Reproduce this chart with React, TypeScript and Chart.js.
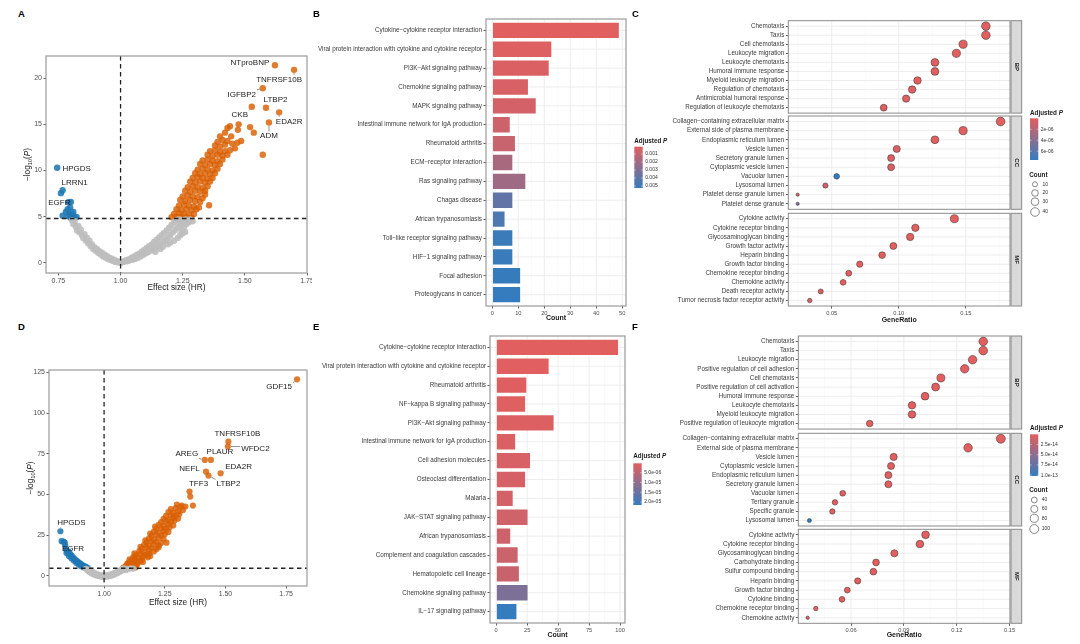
import React, { useEffect, useRef } from "react";
import { Chart, registerables } from "chart.js";

Chart.register(...registerables);

type Pt = [number, number];
const FONT = "'Liberation Sans', Arial, Helvetica, sans-serif";

/* ============================ DATA ============================ */

// ---------- Panel A : volcano (HR vs -log10 P) ----------
const A_X_TICKS = [0.75, 1.0, 1.25, 1.5, 1.75];
const A_Y_TICKS = [0, 5, 10, 15, 20];
const A_THRESHOLD = 4.8;
const A_NS: Pt[] = [
  [0.805, 4.6], [0.81, 4.2], [0.815, 4.5], [0.82, 3.9], [0.825, 3.5], [0.83, 4.0], [0.835, 3.3], [0.84, 3.6],
  [0.845, 3.0], [0.85, 2.7], [0.855, 3.1], [0.86, 2.4], [0.865, 2.7], [0.87, 2.1], [0.875, 2.4], [0.88, 1.8],
  [0.885, 2.0], [0.89, 1.5], [0.895, 1.7], [0.9, 1.3], [0.905, 1.5], [0.91, 1.1], [0.915, 1.25], [0.92, 0.9],
  [0.925, 1.1], [0.93, 0.7], [0.935, 0.9], [0.94, 0.55], [0.945, 0.75], [0.95, 0.4], [0.955, 0.55], [0.96, 0.3],
  [0.965, 0.45], [0.97, 0.2], [0.975, 0.3], [0.98, 0.1], [0.985, 0.2], [0.99, 0.05], [0.995, 0.1],
  [1.0, 0.0], [1.005, 0.05], [1.01, 0.1], [1.015, 0.2], [1.02, 0.15], [1.025, 0.3], [1.03, 0.2], [1.035, 0.4],
  [1.04, 0.3], [1.045, 0.55], [1.05, 0.35], [1.055, 0.7], [1.06, 0.45], [1.065, 0.85], [1.07, 0.55], [1.075, 1.0],
  [1.08, 0.7], [1.085, 1.2], [1.09, 0.85], [1.095, 1.4], [1.1, 1.0], [1.105, 1.6], [1.11, 1.15], [1.115, 1.8],
  [1.12, 1.3], [1.125, 2.0], [1.13, 1.5], [1.135, 2.25], [1.14, 1.65], [1.145, 2.5], [1.15, 1.85], [1.155, 2.75],
  [1.16, 2.05], [1.165, 3.0], [1.17, 2.3], [1.175, 3.25], [1.18, 2.5], [1.185, 3.5], [1.19, 2.75], [1.195, 3.8],
  [1.2, 3.0], [1.205, 4.1], [1.21, 3.3], [1.215, 4.4], [1.22, 3.55], [1.225, 4.6], [1.23, 3.85], [1.235, 4.7],
  [1.24, 4.15], [1.245, 3.5], [1.25, 4.45], [1.255, 3.9], [1.26, 4.7], [1.265, 4.2], [1.27, 4.6], [1.275, 4.4],
  [1.28, 4.7], [1.29, 4.5], [1.17, 1.75], [1.2, 2.2], [1.23, 2.7], [1.24, 3.0], [1.26, 3.35], [1.14, 1.2],
  [1.16, 1.5], [1.19, 2.0], [1.215, 2.4], [1.25, 3.2],
];
const A_DOWN: Pt[] = [
  [0.76, 7.55], [0.8, 6.6], [0.787, 5.8], [0.767, 5.1], [0.78, 5.5], [0.79, 5.05], [0.81, 5.5], [0.8, 4.87],
  [0.823, 4.97], [0.814, 4.87], [0.797, 6.0], [0.805, 5.25], [0.795, 5.3],
];
const A_UP: Pt[] = [
  [1.205, 4.95], [1.215, 5.3], [1.225, 5.0], [1.235, 5.4], [1.245, 5.0], [1.255, 5.3], [1.265, 4.95], [1.275, 5.2], [1.285, 4.9], [1.295, 5.3],
  [1.225, 5.8], [1.235, 6.2], [1.245, 5.7], [1.255, 6.3], [1.265, 5.8], [1.275, 6.2], [1.285, 5.7], [1.295, 6.1], [1.305, 5.8], [1.315, 6.0],
  [1.24, 6.8], [1.25, 7.2], [1.26, 6.7], [1.27, 7.3], [1.28, 6.8], [1.29, 7.2], [1.3, 6.7], [1.31, 7.1], [1.32, 6.6], [1.33, 7.0], [1.34, 7.4],
  [1.26, 7.8], [1.27, 8.2], [1.28, 7.7], [1.29, 8.3], [1.3, 7.8], [1.31, 8.2], [1.32, 7.7], [1.33, 8.1], [1.34, 7.8], [1.35, 8.3],
  [1.28, 8.8], [1.29, 9.2], [1.3, 8.7], [1.31, 9.3], [1.32, 8.8], [1.33, 9.2], [1.34, 8.7], [1.35, 9.1], [1.36, 8.8], [1.37, 9.2],
  [1.3, 9.7], [1.31, 10.1], [1.32, 9.6], [1.33, 10.2], [1.34, 9.7], [1.35, 10.1], [1.36, 9.6], [1.37, 10.0], [1.38, 9.7], [1.39, 10.2],
  [1.32, 10.7], [1.33, 11.1], [1.34, 10.6], [1.35, 11.2], [1.36, 10.7], [1.37, 11.1], [1.38, 10.6], [1.39, 11.0], [1.4, 10.7], [1.41, 11.2],
  [1.35, 11.7], [1.36, 12.1], [1.37, 11.6], [1.38, 12.2], [1.39, 11.7], [1.4, 12.0], [1.41, 11.6], [1.42, 12.1], [1.43, 11.7], [1.44, 12.2], [1.46, 12.4],
  [1.38, 12.7], [1.39, 13.1], [1.4, 12.6], [1.41, 13.3], [1.42, 12.8], [1.43, 13.2], [1.45, 12.9], [1.47, 13.0], [1.485, 13.2],
  [1.4, 13.7], [1.42, 14.1], [1.43, 14.6], [1.44, 14.8], [1.445, 13.7], [1.472, 14.4], [1.475, 15.0],
  [1.356, 6.24], [1.521, 14.7], [1.536, 14.1], [1.572, 11.7],
];
const A_GENES = ["NTproBNP", "TNFRSF10B", "IGFBP2", "LTBP2", "CKB", "EDA2R", "ADM", "HPGDS", "LRRN1", "EGFR"];
const A_GENE_HR = [1.621, 1.698, 1.572, 1.585, 1.528, 1.638, 1.597, 0.745, 0.767, 0.79];
const A_GENE_LOGP = [21.4, 20.9, 18.9, 16.8, 16.9, 16.3, 15.2, 10.3, 7.86, 6.56];

// ---------- Panel B : KEGG bars ----------
const B_TERMS = [
  "Cytokine\u2212cytokine receptor interaction",
  "Viral protein interaction with cytokine and cytokine receptor",
  "PI3K\u2212Akt signaling pathway",
  "Chemokine signaling pathway",
  "MAPK signaling pathway",
  "Intestinal immune network for IgA production",
  "Rheumatoid arthritis",
  "ECM\u2212receptor interaction",
  "Ras signaling pathway",
  "Chagas disease",
  "African trypanosomiasis",
  "Toll\u2212like receptor signaling pathway",
  "HIF\u22121 signaling pathway",
  "Focal adhesion",
  "Proteoglycans in cancer",
];
const B_COUNTS = [49, 23, 22, 14, 17, 7, 9, 8, 13, 8, 5, 8, 8, 11, 11];
const B_PADJ = [0.00009, 0.0002, 0.0003, 0.0004, 0.0005, 0.0007, 0.0009, 0.0018, 0.0021, 0.0039, 0.0045, 0.005, 0.0051, 0.0052, 0.00525];
const B_X_TICKS = [0, 10, 20, 30, 40, 50];
const B_X_MINOR = [5, 15, 25, 35, 45];
const B_P_TICKS = [0.001, 0.002, 0.003, 0.004, 0.005];
const B_P_LABELS = ["0.001", "0.002", "0.003", "0.004", "0.005"];

// ---------- Panel C : GO dot plot ----------
const C_BP_TERMS = ["Chemotaxis", "Taxis", "Cell chemotaxis", "Leukocyte migration", "Leukocyte chemotaxis", "Humoral immune response", "Myeloid leukocyte migration", "Regulation of chemotaxis", "Antimicrobial humoral response", "Regulation of leukocyte chemotaxis"];
const C_BP_RATIO = [0.165, 0.165, 0.148, 0.143, 0.127, 0.127, 0.114, 0.11, 0.1055, 0.0888];
const C_BP_COUNT = [40, 40, 36, 35, 31, 31, 28, 27, 26, 22];
const C_BP_PADJ = [2e-12, 2e-12, 5e-11, 8e-11, 3e-9, 4e-9, 2e-8, 5e-8, 8e-8, 3e-7];
const C_CC_TERMS = ["Collagen\u2212containing extracellular matrix", "External side of plasma membrane", "Endoplasmic reticulum lumen", "Vesicle lumen", "Secretory granule lumen", "Cytoplasmic vesicle lumen", "Vacuolar lumen", "Lysosomal lumen", "Platelet dense granule lumen", "Platelet dense granule"];
const C_CC_RATIO = [0.176, 0.148, 0.127, 0.0985, 0.0943, 0.0943, 0.0537, 0.0453, 0.0246, 0.0246];
const C_CC_COUNT = [43, 36, 31, 24, 23, 23, 13, 11, 6, 6];
const C_CC_PADJ = [1e-13, 4e-11, 2e-9, 3e-7, 5e-7, 6e-7, 7.6e-6, 9e-7, 6e-7, 4.2e-6];
const C_MF_TERMS = ["Cytokine activity", "Cytokine receptor binding", "Glycosaminoglycan binding", "Growth factor activity", "Heparin binding", "Growth factor binding", "Chemokine receptor binding", "Chemokine activity", "Death receptor activity", "Tumor necrosis factor receptor activity"];
const C_MF_RATIO = [0.1415, 0.1124, 0.1085, 0.096, 0.0876, 0.0709, 0.0627, 0.0585, 0.0418, 0.0336];
const C_MF_COUNT = [34, 27, 26, 23, 21, 17, 15, 14, 10, 8];
const C_MF_PADJ = [1e-12, 3e-10, 5e-10, 2e-9, 6e-9, 1e-8, 3e-9, 4e-9, 2e-7, 5e-7];
const C_X_TICKS = [0.05, 0.1, 0.15];
const C_X_MINOR = [0.025, 0.075, 0.125, 0.175];
const C_P_TICKS = [2e-6, 4e-6, 6e-6];
const C_P_LABELS = ["2e-06", "4e-06", "6e-06"];
const C_COUNT_KEYS = [10, 20, 30, 40];

// ---------- Panel D : volcano (validation) ----------
const D_X_TICKS = [1.0, 1.25, 1.5, 1.75];
const D_Y_TICKS = [0, 25, 50, 75, 100, 125];
const D_THRESHOLD = 4.7;
const D_NS: Pt[] = [
  [0.925, 4.4], [0.93, 3.6], [0.935, 3.0], [0.94, 2.4], [0.945, 1.9], [0.95, 1.5], [0.955, 1.1], [0.96, 0.8],
  [0.965, 0.5], [0.97, 0.25], [0.975, 0.05], [0.98, -0.1], [0.985, -0.25], [0.99, -0.35], [0.995, -0.4], [1.0, -0.45],
  [1.005, -0.4], [1.01, -0.35], [1.015, -0.25], [1.02, -0.1], [1.025, 0.05], [1.03, 0.25], [1.035, 0.5], [1.04, 0.8],
  [1.045, 1.1], [1.05, 1.45], [1.055, 1.8], [1.06, 2.2], [1.065, 2.6], [1.07, 3.0], [1.075, 3.5], [1.08, 4.0],
  [1.085, 4.5], [0.94, 3.8], [0.95, 2.8], [0.96, 1.9], [0.97, 1.2], [0.98, 0.7], [0.99, 0.4], [1.0, 0.3],
  [1.01, 0.4], [1.02, 0.7], [1.03, 1.1], [1.04, 1.7], [1.05, 2.4], [1.06, 3.1], [1.07, 3.9], [1.08, 4.6],
  [1.09, 3.6], [1.1, 4.2], [1.11, 4.6], [1.095, 4.4], [1.12, 4.5],
];
const D_DOWN: Pt[] = [
  [0.825, 21.3], [0.833, 21.0], [0.838, 20.4], [0.84, 18.6], [0.848, 15.4], [0.853, 14.9], [0.86, 13.6], [0.866, 12.4],
  [0.872, 11.4], [0.878, 10.5], [0.884, 9.6], [0.89, 8.9], [0.896, 8.2], [0.902, 7.6], [0.908, 7.0], [0.914, 6.4],
  [0.92, 5.9], [0.926, 5.4], [0.932, 5.0], [0.855, 12.2], [0.865, 10.8], [0.875, 9.4], [0.885, 8.0], [0.895, 7.0],
  [0.905, 6.0], [0.915, 5.3], [0.925, 4.9], [0.845, 14.0],
];
const D_UP: Pt[] = [
  [1.08, 5.3], [1.09, 6.2], [1.1, 5.1], [1.105, 6.8], [1.115, 5.6], [1.125, 6.4], [1.13, 5.2], [1.095, 7.4], [1.12, 7.6], [1.135, 6.9],
  [1.1, 8.2], [1.11, 9.3], [1.12, 8.5], [1.13, 9.8], [1.14, 8.0], [1.15, 9.2], [1.105, 10.2], [1.125, 10.6], [1.155, 10.0], [1.16, 8.6],
  [1.12, 11.6], [1.13, 12.8], [1.14, 11.2], [1.15, 13.4], [1.16, 11.8], [1.17, 12.9], [1.18, 11.4], [1.125, 13.8], [1.185, 13.6], [1.19, 12.2],
  [1.145, 15.2], [1.155, 16.6], [1.165, 14.6], [1.175, 17.4], [1.185, 15.6], [1.195, 17.0], [1.205, 15.0], [1.215, 16.4], [1.15, 17.8], [1.225, 17.6],
  [1.165, 19.0], [1.175, 20.6], [1.185, 18.6], [1.195, 21.2], [1.205, 19.4], [1.215, 20.8], [1.225, 18.8], [1.235, 20.2], [1.17, 21.8], [1.257, 20.4],
  [1.185, 23.0], [1.195, 24.6], [1.205, 22.4], [1.215, 25.2], [1.225, 23.4], [1.235, 24.8], [1.245, 22.6], [1.25, 25.6], [1.19, 26.0],
  [1.205, 27.2], [1.215, 28.8], [1.225, 26.6], [1.235, 29.4], [1.245, 27.6], [1.255, 29.0], [1.265, 27.0], [1.27, 29.8], [1.21, 30.2],
  [1.225, 31.4], [1.235, 33.0], [1.245, 30.8], [1.255, 33.6], [1.265, 31.6], [1.275, 33.2], [1.285, 31.0], [1.29, 34.0],
  [1.245, 35.0], [1.255, 36.8], [1.265, 34.6], [1.275, 37.4], [1.285, 35.6], [1.295, 37.0], [1.305, 35.2], [1.31, 38.0],
  [1.265, 39.2], [1.275, 41.0], [1.285, 38.6], [1.295, 41.6], [1.305, 39.6], [1.315, 42.2], [1.325, 40.4], [1.3, 43.8], [1.32, 43.2], [1.335, 42.6],
  [1.355, 48.7], [1.366, 43.2],
];
const D_GENES = ["GDF15", "TNFRSF10B", "WFDC2", "AREG", "PLAUR", "NEFL", "LTBP2", "EDA2R", "TFF3", "HPGDS", "EGFR"];
const D_GENE_HR = [1.795, 1.512, 1.51, 1.415, 1.44, 1.42, 1.43, 1.48, 1.352, 0.82, 0.843];
const D_GENE_LOGP = [120.7, 82.4, 79.4, 71.2, 71.2, 64.0, 61.6, 63.0, 51.8, 27.4, 16.4];

// ---------- Panel E : KEGG bars ----------
const E_TERMS = [
  "Cytokine\u2212cytokine receptor interaction",
  "Viral protein interaction with cytokine and cytokine receptor",
  "Rheumatoid arthritis",
  "NF\u2212kappa B signaling pathway",
  "PI3K\u2212Akt signaling pathway",
  "Intestinal immune network for IgA production",
  "Cell adhesion molecules",
  "Osteoclast differentiation",
  "Malaria",
  "JAK\u2212STAT signaling pathway",
  "African trypanosomiasis",
  "Complement and coagulation cascades",
  "Hematopoietic cell lineage",
  "Chemokine signaling pathway",
  "IL\u221217 signaling pathway",
];
const E_COUNTS = [99, 43, 25, 24, 47, 16, 28, 24, 14, 26, 12, 18, 19, 26, 17];
const E_PADJ = [1.5e-7, 3e-7, 5e-7, 7e-7, 9e-7, 1.1e-6, 1.4e-6, 1.7e-6, 2.0e-6, 2.3e-6, 2.6e-6, 3.0e-6, 3.4e-6, 1.25e-5, 2.15e-5];
const E_X_TICKS = [0, 25, 50, 75, 100];
const E_X_MINOR = [12.5, 37.5, 62.5, 87.5];
const E_P_TICKS = [5e-6, 1e-5, 1.5e-5, 2e-5];
const E_P_LABELS = ["5.0e-06", "1.0e-05", "1.5e-05", "2.0e-05"];

// ---------- Panel F : GO dot plot ----------
const F_BP_TERMS = ["Chemotaxis", "Taxis", "Leukocyte migration", "Positive regulation of cell adhesion", "Cell chemotaxis", "Positive regulation of cell activation", "Humoral immune response", "Leukocyte chemotaxis", "Myeloid leukocyte migration", "Positive regulation of leukocyte migration"];
const F_BP_RATIO = [0.135, 0.135, 0.129, 0.1245, 0.111, 0.108, 0.102, 0.0946, 0.0946, 0.0706];
const F_BP_COUNT = [95, 95, 91, 88, 78, 76, 72, 67, 67, 50];
const F_BP_PADJ = [1e-30, 1e-30, 1e-28, 1e-25, 1e-24, 1e-20, 1e-22, 1e-21, 1e-20, 1e-16];
const F_CC_TERMS = ["Collagen\u2212containing extracellular matrix", "External side of plasma membrane", "Vesicle lumen", "Cytoplasmic vesicle lumen", "Endoplasmic reticulum lumen", "Secretory granule lumen", "Vacuolar lumen", "Tertiary granule", "Specific granule", "Lysosomal lumen"];
const F_CC_RATIO = [0.145, 0.1264, 0.0842, 0.0827, 0.0812, 0.0812, 0.0553, 0.0509, 0.0494, 0.0364];
const F_CC_COUNT = [103, 90, 60, 59, 58, 58, 39, 36, 35, 26];
const F_CC_PADJ = [1e-35, 1e-28, 1e-20, 1e-20, 1e-22, 1e-19, 1e-17, 1e-16, 1e-15, 1.02e-13];
const F_MF_TERMS = ["Cytokine activity", "Cytokine receptor binding", "Glycosaminoglycan binding", "Carbohydrate binding", "Sulfur compound binding", "Heparin binding", "Growth factor binding", "Cytokine binding", "Chemokine receptor binding", "Chemokine activity"];
const F_MF_RATIO = [0.1023, 0.0991, 0.0846, 0.0742, 0.0727, 0.0638, 0.0579, 0.0549, 0.04, 0.0354];
const F_MF_COUNT = [72, 70, 60, 53, 52, 45, 41, 39, 28, 25];
const F_MF_PADJ = [1e-30, 1e-32, 1e-25, 1e-18, 1e-18, 1e-20, 1e-17, 1e-16, 1e-18, 1e-17];
const F_X_TICKS = [0.06, 0.09, 0.12, 0.15];
const F_X_MINOR = [0.045, 0.075, 0.105, 0.135];
const F_P_TICKS = [2.5e-14, 5e-14, 7.5e-14, 1e-13];
const F_P_LABELS = ["2.5e-14", "5.0e-14", "7.5e-14", "1.0e-13"];
const F_COUNT_KEYS = [40, 60, 80, 100];

/* ============================ STYLE ============================ */

// label offsets in px from the point: [dx, dy, drawSegment]
const A_LABEL_STYLE: [number, number, number][] = [
  [-25, -2, 0], [-15, 9.5, 1], [-21, 6, 1], [9.5, -7.6, 1], [-12, 8, 1], [10, 9, 1], [0, 13.5, 1], [19.5, 1, 0], [12, -7, 1], [-9, 0.5, 0],
];
const D_LABEL_STYLE: [number, number, number][] = [
  [-18, 8, 1], [9, -8, 0], [27.5, 2.5, 1], [-18, -6, 1], [9, -8, 0], [-16.5, -2.7, 0], [20, 8.4, 1], [18, -6, 1], [9, -7.6, 0], [11, -8.3, 1], [7, 0, 0],
];
const C_COUNT_KEY_Y = [184.3, 193, 201.7, 212];
const F_COUNT_KEY_Y = [500, 509, 518.3, 529];

const ORANGE = "rgba(217,95,2,0.82)";
const BLUE = "rgba(31,120,180,0.88)";
const GRAY = "rgba(190,190,190,0.9)";
const BORDER = "#9A9A9A";
const LOW_RGB = [226, 95, 95];
const HIGH_RGB = [52, 124, 190];
const CAT_FONT = 6.3;
const CAT_COLOR = "#3A3A3A";

function colorAt(t: number) {
  const u = Math.max(0, Math.min(1, t));
  const c = LOW_RGB.map((v, i) => Math.round(v + (HIGH_RGB[i] - v) * u));
  return `rgb(${c[0]},${c[1]},${c[2]})`;
}
function domainOf(arr: number[]): [number, number] {
  return [Math.min(...arr), Math.max(...arr)];
}
function pColor(p: number, dom: [number, number]) {
  return colorAt((p - dom[0]) / (dom[1] - dom[0]));
}
function radiusFn(dom: [number, number], r: [number, number]) {
  return (c: number) => r[0] + (r[1] - r[0]) * Math.sqrt(Math.max(0, (c - dom[0]) / (dom[1] - dom[0])));
}

type Area = { l: number; t: number; r: number; b: number };
type CBox = [number, number, number, number];

function axis(o: any) {
  return {
    type: "linear",
    display: o.display !== false,
    min: o.min,
    max: o.max,
    reverse: !!o.reverse,
    offset: false,
    afterBuildTicks: (s: any) => {
      s.ticks = o.ticks.map((v: number) => ({ value: v }));
    },
    afterFit: (s: any) => {
      if (s.isHorizontal()) s.height = o.size;
      else s.width = o.size;
      s.paddingLeft = 0; s.paddingRight = 0; s.paddingTop = 0; s.paddingBottom = 0;
    },
    grid: { display: true, offset: false, drawOnChartArea: false, drawTicks: true, tickLength: 2.5, tickWidth: 0.8, tickColor: "#333", color: "#333" },
    border: { display: false },
    ticks: {
      autoSkip: false, maxRotation: 0, minRotation: 0, padding: 1.5,
      color: o.tickColor || "#4D4D4D",
      font: { family: FONT, size: o.fontSize },
      callback: (v: number) => o.fmt(v),
    },
    title: o.title
      ? { display: true, text: o.title, color: "#1a1a1a", font: { family: FONT, size: o.titleSize, weight: o.titleBold ? "bold" : "normal" } }
      : { display: false },
  };
}

function vline(ctx: CanvasRenderingContext2D, x: number, a: any) {
  ctx.beginPath(); ctx.moveTo(x, a.top); ctx.lineTo(x, a.bottom); ctx.stroke();
}
function hline(ctx: CanvasRenderingContext2D, y: number, a: any) {
  ctx.beginPath(); ctx.moveTo(a.left, y); ctx.lineTo(a.right, y); ctx.stroke();
}

function drawAdjTitle(ctx: CanvasRenderingContext2D, x: number, y: number) {
  ctx.fillStyle = "#1a1a1a";
  ctx.textAlign = "left";
  ctx.textBaseline = "middle";
  ctx.font = `bold 6.3px ${FONT}`;
  ctx.fillText("Adjusted ", x, y);
  const w = ctx.measureText("Adjusted ").width;
  ctx.font = `italic bold 6.3px ${FONT}`;
  ctx.fillText("P", x + w, y);
}

function drawColorbar(ctx: CanvasRenderingContext2D, o: { x: number; y: number; w: number; h: number; titleY: number; dom: [number, number]; ticks: number[]; labels: string[] }) {
  drawAdjTitle(ctx, o.x, o.titleY);
  const g = ctx.createLinearGradient(0, o.y, 0, o.y + o.h);
  for (let i = 0; i <= 20; i++) g.addColorStop(i / 20, colorAt(i / 20));
  ctx.fillStyle = g;
  ctx.fillRect(o.x, o.y, o.w, o.h);
  ctx.font = `5px ${FONT}`;
  ctx.textAlign = "left";
  ctx.textBaseline = "middle";
  o.ticks.forEach((v, i) => {
    const yy = o.y + ((v - o.dom[0]) / (o.dom[1] - o.dom[0])) * o.h;
    ctx.strokeStyle = "rgba(255,255,255,0.9)";
    ctx.lineWidth = 0.5;
    ctx.beginPath(); ctx.moveTo(o.x, yy); ctx.lineTo(o.x + o.w / 5, yy); ctx.stroke();
    ctx.beginPath(); ctx.moveTo(o.x + o.w, yy); ctx.lineTo(o.x + o.w - o.w / 5, yy); ctx.stroke();
    ctx.fillStyle = "#333";
    ctx.fillText(o.labels[i], o.x + o.w + 2.5, yy);
  });
}

function drawCountLegend(ctx: CanvasRenderingContext2D, o: { x: number; titleY: number; cx: number; ys: number[]; keys: number[]; rad: (c: number) => number }) {
  ctx.fillStyle = "#1a1a1a";
  ctx.font = `bold 6.3px ${FONT}`;
  ctx.textAlign = "left";
  ctx.textBaseline = "middle";
  ctx.fillText("Count", o.x, o.titleY);
  ctx.font = `5px ${FONT}`;
  o.keys.forEach((k, i) => {
    ctx.strokeStyle = "#555";
    ctx.lineWidth = 0.7;
    ctx.beginPath(); ctx.arc(o.cx, o.ys[i], o.rad(k), 0, Math.PI * 2); ctx.stroke();
    ctx.fillStyle = "#333";
    ctx.fillText(String(k), o.cx + 7.5, o.ys[i]);
  });
}

function drawLogTitle(ctx: CanvasRenderingContext2D, cx: number, cy: number) {
  ctx.save();
  ctx.translate(cx, cy);
  ctx.rotate(-Math.PI / 2);
  ctx.fillStyle = "#1a1a1a";
  ctx.textBaseline = "middle";
  ctx.textAlign = "left";
  const parts: [string, string, number][] = [
    ["\u2212log", `8.3px ${FONT}`, 0],
    ["10", `5.6px ${FONT}`, 2.2],
    ["(", `8.3px ${FONT}`, 0],
    ["P", `italic 8.3px ${FONT}`, 0],
    [")", `8.3px ${FONT}`, 0],
  ];
  let total = 0;
  parts.forEach(([t, f]) => { ctx.font = f; total += ctx.measureText(t).width; });
  let x = -total / 2;
  parts.forEach(([t, f, dy]) => { ctx.font = f; ctx.fillText(t, x, dy); x += ctx.measureText(t).width; });
  ctx.restore();
}

function layoutFor(box: CBox, a: Area) {
  const [L, T, W, H] = box;
  return { yW: a.l - L, padT: a.t - T, padR: L + W - a.r, bottom: T + H - a.b };
}

/* ---------- volcano ---------- */
function volcanoConfig(o: {
  box: CBox; area: Area; xMin: number; xMax: number; yMin: number; yMax: number; xTicks: number[]; yTicks: number[];
  ns: Pt[]; down: Pt[]; up: Pt[]; genes: string[]; hr: number[]; logp: number[]; style: [number, number, number][];
  threshold: number; titleX: number; r: number;
}) {
  const lay = layoutFor(o.box, o.area);
  const toXY = (p: Pt) => ({ x: p[0], y: p[1] });
  const mk = (pts: any[], color: string) => ({
    data: pts, pointRadius: o.r, pointHoverRadius: o.r, pointBorderWidth: 0, pointBackgroundColor: color, showLine: false,
  });
  const labeled = o.genes.map((_, i) => ({ x: o.hr[i], y: o.logp[i] }));
  const labeledColors = o.hr.map((h) => (h > 1 ? ORANGE : BLUE));
  const [L] = o.box;
  const plugin = {
    id: "volcanoDecor",
    afterDatasetsDraw(chart: any) {
      const { ctx, chartArea: a, scales } = chart;
      const x = scales.x, y = scales.y;
      ctx.save();
      ctx.beginPath(); ctx.rect(a.left, a.top, a.width, a.height); ctx.clip();
      ctx.setLineDash([4.5, 3.5]);
      ctx.strokeStyle = "#222";
      ctx.lineWidth = 1.3;
      vline(ctx, x.getPixelForValue(1), a);
      hline(ctx, y.getPixelForValue(o.threshold), a);
      ctx.restore();
      ctx.save();
      ctx.font = `8px ${FONT}`;
      ctx.textAlign = "center";
      ctx.textBaseline = "middle";
      o.genes.forEach((g, i) => {
        const px = x.getPixelForValue(o.hr[i]);
        const py = y.getPixelForValue(o.logp[i]);
        const [dx, dy, seg] = o.style[i];
        const tx = px + dx, ty = py + dy;
        if (seg) {
          const hw = ctx.measureText(g).width / 2 + 1, hh = 4.5;
          const ex = Math.max(tx - hw, Math.min(px, tx + hw));
          const ey = Math.max(ty - hh, Math.min(py, ty + hh));
          const len = Math.hypot(ex - px, ey - py);
          if (len > 3.5) {
            const sx = px + ((ex - px) / len) * 3.2, sy = py + ((ey - py) / len) * 3.2;
            ctx.strokeStyle = "#444";
            ctx.lineWidth = 0.6;
            ctx.beginPath(); ctx.moveTo(sx, sy); ctx.lineTo(ex, ey); ctx.stroke();
          }
        }
        ctx.fillStyle = "#1a1a1a";
        ctx.fillText(g, tx, ty);
      });
      ctx.strokeStyle = BORDER;
      ctx.lineWidth = 1.2;
      ctx.strokeRect(a.left, a.top, a.width, a.height);
      drawLogTitle(ctx, o.titleX - L, (a.top + a.bottom) / 2);
      ctx.restore();
    },
  };
  return {
    type: "scatter",
    data: {
      datasets: [
        mk(o.ns.map(toXY), GRAY),
        mk(o.down.map(toXY), BLUE),
        mk(o.up.map(toXY), ORANGE),
        { ...mk(labeled, ORANGE), pointBackgroundColor: labeledColors },
      ],
    },
    options: {
      responsive: false, animation: false, events: [],
      layout: { padding: { left: 0, top: lay.padT, right: lay.padR, bottom: 0 } },
      plugins: { legend: { display: false }, tooltip: { enabled: false } },
      scales: {
        x: axis({ min: o.xMin, max: o.xMax, ticks: o.xTicks, fmt: (v: number) => v.toFixed(2), size: lay.bottom, fontSize: 7, title: "Effect size (HR)", titleSize: 8.3 }),
        y: axis({ min: o.yMin, max: o.yMax, ticks: o.yTicks, fmt: (v: number) => String(v), size: lay.yW, fontSize: 7 }),
      },
    },
    plugins: [plugin],
  };
}

/* ---------- bars ---------- */
function barConfig(o: {
  box: CBox; area: Area; terms: string[]; counts: number[]; padj: number[]; xMin: number; xMax: number; xTicks: number[]; xMinor: number[];
  legend: { x: number; y: number; w: number; h: number; titleY: number; ticks: number[]; labels: string[] };
}) {
  const lay = layoutFor(o.box, o.area);
  const dom = domainOf(o.padj);
  const [L, T] = o.box;
  const idx = o.terms.map((_, i) => i + 1);
  const plugin = {
    id: "barDecor",
    beforeDatasetsDraw(chart: any) {
      const { ctx, chartArea: a, scales: { x, y } } = chart;
      ctx.save();
      ctx.strokeStyle = "#F3F3F3"; ctx.lineWidth = 0.5;
      o.xMinor.forEach((v) => vline(ctx, x.getPixelForValue(v), a));
      ctx.strokeStyle = "#EBEBEB"; ctx.lineWidth = 0.9;
      o.xTicks.forEach((v) => vline(ctx, x.getPixelForValue(v), a));
      idx.forEach((v) => hline(ctx, y.getPixelForValue(v), a));
      ctx.restore();
    },
    afterDatasetsDraw(chart: any) {
      const { ctx, chartArea: a } = chart;
      ctx.save();
      ctx.strokeStyle = BORDER; ctx.lineWidth = 1.2;
      ctx.strokeRect(a.left, a.top, a.width, a.height);
      ctx.restore();
    },
    afterDraw(chart: any) {
      const ctx = chart.ctx;
      ctx.save();
      ctx.translate(-L, -T);
      drawColorbar(ctx, { ...o.legend, dom });
      ctx.restore();
    },
  };
  return {
    type: "bar",
    data: {
      datasets: [{
        data: o.counts.map((c, i) => ({ x: c, y: i + 1 })),
        backgroundColor: o.padj.map((p) => pColor(p, dom)),
        borderColor: "rgba(255,255,255,0.85)",
        borderWidth: 0.8,
        barPercentage: 0.9,
        categoryPercentage: 1,
      }],
    },
    options: {
      indexAxis: "y",
      responsive: false, animation: false, events: [],
      layout: { padding: { left: 0, top: lay.padT, right: lay.padR, bottom: 0 } },
      plugins: { legend: { display: false }, tooltip: { enabled: false } },
      scales: {
        x: axis({ min: o.xMin, max: o.xMax, ticks: o.xTicks, fmt: (v: number) => String(v), size: lay.bottom, fontSize: 5.7, title: "Count", titleSize: 7, titleBold: true }),
        y: axis({ min: 0.4, max: o.terms.length + 0.6, reverse: true, ticks: idx, fmt: (v: number) => o.terms[v - 1], size: lay.yW, fontSize: CAT_FONT, tickColor: CAT_COLOR }),
      },
    },
    plugins: [plugin],
  };
}

/* ---------- facet dot plots ---------- */
function facetConfig(o: {
  box: CBox; area: Area; terms: string[]; ratio: number[]; count: number[]; padj: number[];
  xMin: number; xMax: number; xTicks: number[]; xMinor: number[]; showX: boolean; strip: string;
  pDom: [number, number]; rad: (c: number) => number; legend?: (ctx: CanvasRenderingContext2D) => void;
}) {
  const lay = layoutFor(o.box, o.area);
  const [L, T] = o.box;
  const idx = o.terms.map((_, i) => i + 1);
  const plugin = {
    id: "facetDecor",
    beforeDatasetsDraw(chart: any) {
      const { ctx, chartArea: a, scales: { x, y } } = chart;
      ctx.save();
      ctx.strokeStyle = "#F3F3F3"; ctx.lineWidth = 0.5;
      o.xMinor.forEach((v) => vline(ctx, x.getPixelForValue(v), a));
      ctx.strokeStyle = "#EBEBEB"; ctx.lineWidth = 0.9;
      o.xTicks.forEach((v) => vline(ctx, x.getPixelForValue(v), a));
      idx.forEach((v) => hline(ctx, y.getPixelForValue(v), a));
      ctx.restore();
    },
    afterDatasetsDraw(chart: any) {
      const { ctx, chartArea: a } = chart;
      ctx.save();
      ctx.strokeStyle = "#8A8A8A"; ctx.lineWidth = 1;
      ctx.strokeRect(a.left, a.top, a.width, a.height);
      const sx = a.right + 1, sw = 10.7;
      ctx.fillStyle = "#D9D9D9";
      ctx.fillRect(sx, a.top, sw, a.height);
      ctx.strokeStyle = "#8A8A8A";
      ctx.strokeRect(sx, a.top, sw, a.height);
      ctx.translate(sx + sw / 2, (a.top + a.bottom) / 2);
      ctx.rotate(Math.PI / 2);
      ctx.fillStyle = "#1a1a1a";
      ctx.font = `bold 6px ${FONT}`;
      ctx.textAlign = "center";
      ctx.textBaseline = "middle";
      ctx.fillText(o.strip, 0, 0);
      ctx.restore();
    },
    afterDraw(chart: any) {
      if (!o.legend) return;
      const ctx = chart.ctx;
      ctx.save();
      ctx.translate(-L, -T);
      o.legend(ctx);
      ctx.restore();
    },
  };
  return {
    type: "scatter",
    data: {
      datasets: [{
        data: o.ratio.map((r, i) => ({ x: r, y: i + 1 })),
        pointRadius: o.count.map(o.rad),
        pointHoverRadius: o.count.map(o.rad),
        pointBackgroundColor: o.padj.map((p) => pColor(p, o.pDom)),
        pointBorderColor: "rgba(45,45,45,0.85)",
        pointBorderWidth: 0.6,
        showLine: false,
      }],
    },
    options: {
      responsive: false, animation: false, events: [],
      layout: { padding: { left: 0, top: lay.padT, right: lay.padR, bottom: o.showX ? 0 : lay.bottom } },
      plugins: { legend: { display: false }, tooltip: { enabled: false } },
      scales: {
        x: axis({ display: o.showX, min: o.xMin, max: o.xMax, ticks: o.xTicks, fmt: (v: number) => v.toFixed(2), size: o.showX ? lay.bottom : 0, fontSize: 5.7, title: "GeneRatio", titleSize: 7, titleBold: true }),
        y: axis({ min: 0.4, max: o.terms.length + 0.6, reverse: true, ticks: idx, fmt: (v: number) => o.terms[v - 1], size: lay.yW, fontSize: CAT_FONT, tickColor: CAT_COLOR }),
      },
    },
    plugins: [plugin],
  };
}

/* ============================ CHART SPECS ============================ */

const C_PDOM = domainOf([...C_BP_PADJ, ...C_CC_PADJ, ...C_MF_PADJ]);
const C_RAD = radiusFn(domainOf([...C_BP_COUNT, ...C_CC_COUNT, ...C_MF_COUNT]), [1.6, 4.4]);
const F_PDOM = domainOf([...F_BP_PADJ, ...F_CC_PADJ, ...F_MF_PADJ]);
const F_RAD = radiusFn(domainOf([...F_BP_COUNT, ...F_CC_COUNT, ...F_MF_COUNT]), [1.7, 4.5]);

type Spec = { key: string; box: CBox; make: () => any };

const C_L = 788.3, F_L = 798.3, FR = 1010;

const SPECS: Spec[] = [
  {
    key: "A", box: [19, 50, 293, 247],
    make: () => volcanoConfig({
      box: [19, 50, 293, 247], area: { l: 46, t: 56, r: 307, b: 273 },
      xMin: 0.7, xMax: 1.75, yMin: -1.1, yMax: 22.4, xTicks: A_X_TICKS, yTicks: A_Y_TICKS,
      ns: A_NS, down: A_DOWN, up: A_UP, genes: A_GENES, hr: A_GENE_HR, logp: A_GENE_LOGP, style: A_LABEL_STYLE,
      threshold: A_THRESHOLD, titleX: 28, r: 3.2,
    }),
  },
  {
    key: "B", box: [306, 0, 374, 326],
    make: () => barConfig({
      box: [306, 0, 374, 326], area: { l: 486, t: 19, r: 626, b: 306 },
      terms: B_TERMS, counts: B_COUNTS, padj: B_PADJ, xMin: -2.45, xMax: 51.45, xTicks: B_X_TICKS, xMinor: B_X_MINOR,
      legend: { x: 634.3, y: 146.7, w: 8.4, h: 41.3, titleY: 141.3, ticks: B_P_TICKS, labels: B_P_LABELS },
    }),
  },
  {
    key: "C1", box: [656, 14, 424, 104],
    make: () => facetConfig({
      box: [656, 14, 424, 104], area: { l: C_L, t: 20.7, r: FR, b: 113.3 },
      terms: C_BP_TERMS, ratio: C_BP_RATIO, count: C_BP_COUNT, padj: C_BP_PADJ,
      xMin: 0.0176, xMax: 0.183, xTicks: C_X_TICKS, xMinor: C_X_MINOR, showX: false, strip: "BP", pDom: C_PDOM, rad: C_RAD,
    }),
  },
  {
    key: "C2", box: [656, 100, 424, 125],
    make: () => facetConfig({
      box: [656, 100, 424, 125], area: { l: C_L, t: 116, r: FR, b: 209.3 },
      terms: C_CC_TERMS, ratio: C_CC_RATIO, count: C_CC_COUNT, padj: C_CC_PADJ,
      xMin: 0.0176, xMax: 0.183, xTicks: C_X_TICKS, xMinor: C_X_MINOR, showX: false, strip: "CC", pDom: C_PDOM, rad: C_RAD,
      legend: (ctx) => {
        drawColorbar(ctx, { x: 1030, y: 118.3, w: 8.3, h: 41.7, titleY: 113.3, dom: C_PDOM, ticks: C_P_TICKS, labels: C_P_LABELS });
        drawCountLegend(ctx, { x: 1029.3, titleY: 175, cx: 1035, ys: C_COUNT_KEY_Y, keys: C_COUNT_KEYS, rad: C_RAD });
      },
    }),
  },
  {
    key: "C3", box: [656, 206, 424, 122],
    make: () => facetConfig({
      box: [656, 206, 424, 122], area: { l: C_L, t: 213.3, r: FR, b: 306 },
      terms: C_MF_TERMS, ratio: C_MF_RATIO, count: C_MF_COUNT, padj: C_MF_PADJ,
      xMin: 0.0176, xMax: 0.183, xTicks: C_X_TICKS, xMinor: C_X_MINOR, showX: true, strip: "MF", pDom: C_PDOM, rad: C_RAD,
    }),
  },
  {
    key: "D", box: [22, 364, 290, 248],
    make: () => volcanoConfig({
      box: [22, 364, 290, 248], area: { l: 49, t: 370, r: 307, b: 586 },
      xMin: 0.773, xMax: 1.836, yMin: -6.2, yMax: 126.4, xTicks: D_X_TICKS, yTicks: D_Y_TICKS,
      ns: D_NS, down: D_DOWN, up: D_UP, genes: D_GENES, hr: D_GENE_HR, logp: D_GENE_LOGP, style: D_LABEL_STYLE,
      threshold: D_THRESHOLD, titleX: 31, r: 3.1,
    }),
  },
  {
    key: "E", box: [306, 320, 374, 323],
    make: () => barConfig({
      box: [306, 320, 374, 323], area: { l: 490, t: 336, r: 625, b: 623 },
      terms: E_TERMS, counts: E_COUNTS, padj: E_PADJ, xMin: -4.95, xMax: 103.95, xTicks: E_X_TICKS, xMinor: E_X_MINOR,
      legend: { x: 633.3, y: 463.3, w: 8.4, h: 41.7, titleY: 456.7, ticks: E_P_TICKS, labels: E_P_LABELS },
    }),
  },
  {
    key: "F1", box: [656, 330, 424, 104],
    make: () => facetConfig({
      box: [656, 330, 424, 104], area: { l: F_L, t: 336, r: FR, b: 429.3 },
      terms: F_BP_TERMS, ratio: F_BP_RATIO, count: F_BP_COUNT, padj: F_BP_PADJ,
      xMin: 0.0301, xMax: 0.1502, xTicks: F_X_TICKS, xMinor: F_X_MINOR, showX: false, strip: "BP", pDom: F_PDOM, rad: F_RAD,
    }),
  },
  {
    key: "F2", box: [656, 418, 424, 124],
    make: () => facetConfig({
      box: [656, 418, 424, 124], area: { l: F_L, t: 433.3, r: FR, b: 526 },
      terms: F_CC_TERMS, ratio: F_CC_RATIO, count: F_CC_COUNT, padj: F_CC_PADJ,
      xMin: 0.0301, xMax: 0.1502, xTicks: F_X_TICKS, xMinor: F_X_MINOR, showX: false, strip: "CC", pDom: F_PDOM, rad: F_RAD,
      legend: (ctx) => {
        drawColorbar(ctx, { x: 1030, y: 434.3, w: 8.3, h: 41.7, titleY: 428.3, dom: F_PDOM, ticks: F_P_TICKS, labels: F_P_LABELS });
        drawCountLegend(ctx, { x: 1029.3, titleY: 490.7, cx: 1034.3, ys: F_COUNT_KEY_Y, keys: F_COUNT_KEYS, rad: F_RAD });
      },
    }),
  },
  {
    key: "F3", box: [656, 522, 424, 121],
    make: () => facetConfig({
      box: [656, 522, 424, 121], area: { l: F_L, t: 529.3, r: FR, b: 623.3 },
      terms: F_MF_TERMS, ratio: F_MF_RATIO, count: F_MF_COUNT, padj: F_MF_PADJ,
      xMin: 0.0301, xMax: 0.1502, xTicks: F_X_TICKS, xMinor: F_X_MINOR, showX: true, strip: "MF", pDom: F_PDOM, rad: F_RAD,
    }),
  },
];

const LETTERS: [string, number, number][] = [
  ["A", 18, 9], ["B", 313, 9], ["C", 632, 9], ["D", 18, 322], ["E", 313, 322], ["F", 632, 322],
];

export default function App() {
  const refs = useRef<(HTMLCanvasElement | null)[]>([]);
  useEffect(() => {
    document.body.style.margin = "0";
    Chart.defaults.font.family = FONT;
    const charts = SPECS.map((s, i) => new Chart(refs.current[i] as HTMLCanvasElement, s.make()));
    return () => charts.forEach((c) => c.destroy());
  }, []);
  return (
    <div style={{ position: "relative", width: 1080, height: 644, background: "#fff", overflow: "hidden", fontFamily: FONT }}>
      {SPECS.map((s, i) => (
        <canvas
          key={s.key}
          ref={(el) => { refs.current[i] = el; }}
          width={s.box[2]}
          height={s.box[3]}
          style={{ position: "absolute", left: s.box[0], top: s.box[1], width: s.box[2], height: s.box[3] }}
        />
      ))}
      {LETTERS.map(([t, x, y]) => (
        <div key={t} style={{ position: "absolute", left: x, top: y, fontSize: 9.5, lineHeight: "9.5px", fontWeight: "bold", color: "#000" }}>{t}</div>
      ))}
    </div>
  );
}
